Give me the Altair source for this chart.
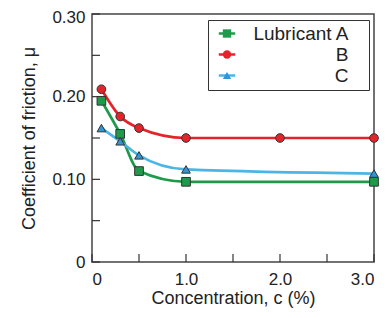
import altair as alt
import pandas as pd

series = ["Lubricant A", "B", "C"]
marker_keys = ["Lubricant A ", "B ", "C "]
line_colors = ["#1f9a4b", "#e5232b", "#4bb6e6"]
fill_colors = ["#1f9a4b", "#e5232b", "#3196d3"]
shapes = ["square", "circle", "triangle-up"]

conc_a = [0.1, 0.3, 0.5, 1.0, 3.0]
mu_a = [0.195, 0.155, 0.110, 0.097, 0.097]
conc_b = [0.1, 0.3, 0.5, 1.0, 2.0, 3.0]
mu_b = [0.209, 0.176, 0.162, 0.150, 0.150, 0.150]
conc_c = [0.1, 0.3, 0.5, 1.0, 3.0]
mu_c = [0.162, 0.146, 0.129, 0.112, 0.107]

y_ticks = [0, 0.05, 0.10, 0.15, 0.20, 0.25, 0.30]
y_labels = [0, 0.10, 0.20, 0.30]
x_ticks = [0, 0.5, 1.0, 1.5, 2.0, 2.5, 3.0]
x_labels = [0, 1.0, 2.0, 3.0]

rows = []
for name, key, xs, ys in [
    (series[0], marker_keys[0], conc_a, mu_a),
    (series[1], marker_keys[1], conc_b, mu_b),
    (series[2], marker_keys[2], conc_c, mu_c),
]:
    for xv, yv in zip(xs, ys):
        rows.append({"series": name, "mkey": key, "c": xv, "mu": yv})
df = pd.DataFrame(rows)

FONT = "Liberation Sans"
xscale = alt.Scale(domain=[0, 3], nice=False, zero=False)
yscale = alt.Scale(domain=[0, 0.3], nice=False)

TOP = 6
H = 254 - TOP  # plot bottom at y = 262 on the page
LX, LY = 116, 20 - 8 - TOP
PAD = 4
SYM_OFF = 5.5

lines = alt.Chart(df).mark_line(interpolate="monotone", strokeWidth=2.7).encode(
    x=alt.X("c:Q", scale=xscale,
            axis=alt.Axis(values=x_labels, title="Concentration, c (%)",
                          labelExpr="datum.value == 0 ? '0' : format(datum.value, '.1f')",
                          ticks=False, domain=False, grid=False, labelPadding=9,
                          titlePadding=2)),
    y=alt.Y("mu:Q", scale=yscale,
            axis=alt.Axis(values=y_labels, title="Coefficient of friction, μ",
                          labelExpr="datum.value == 0 ? '0' : format(datum.value, '.2f')",
                          labelOffset={"condition": {"test": "datum.value > 0.25", "value": 3},
                                       "value": 0},
                          ticks=False, domain=False, grid=False, labelPadding=7,
                          titlePadding=13)),
    color=alt.Color("series:N",
                    scale=alt.Scale(domain=series, range=line_colors),
                    legend=alt.Legend(orient="none", legendX=LX, legendY=LY, title=None,
                                      symbolType="stroke", symbolSize=270,
                                      symbolStrokeWidth=2.5, symbolOffset=SYM_OFF,
                                      labelAlign="right", labelOffset=112,
                                      labelFontSize=19, labelFont=FONT, labelColor="#222",
                                      padding=PAD, rowPadding=1,
                                      strokeColor="transparent", fillColor="white")),
)

marker_legend = alt.Legend(orient="none", legendX=LX, legendY=LY, title=None,
                           symbolSize=70, symbolOffset=SYM_OFF,
                           symbolStrokeColor="#333", symbolStrokeWidth=1,
                           labelAlign="right", labelOffset=128,
                           labelExpr="'\u00a0'",
                           labelFontSize=19, labelFont=FONT, labelOpacity=0,
                           padding=PAD, rowPadding=1,
                           strokeColor="#333", fillColor="transparent")

points = alt.Chart(df).mark_point(filled=True, size=75, stroke="#333", strokeWidth=1,
                                  opacity=1).encode(
    x=alt.X("c:Q", scale=xscale),
    y=alt.Y("mu:Q", scale=yscale),
    fill=alt.Fill("mkey:N", scale=alt.Scale(domain=marker_keys, range=fill_colors),
                  legend=marker_legend),
    shape=alt.Shape("mkey:N", scale=alt.Scale(domain=marker_keys, range=shapes),
                    legend=marker_legend),
)

ytick_df = pd.DataFrame({"t": y_ticks})
xtick_df = pd.DataFrame({"t": x_ticks})
yt = alt.Chart(ytick_df).mark_rule(color="#333", strokeWidth=1.2).encode(
    y=alt.Y("t:Q", scale=yscale), x=alt.value(0), x2=alt.value(8))
xt = alt.Chart(xtick_df).mark_rule(color="#333", strokeWidth=1.2).encode(
    x=alt.X("t:Q", scale=xscale), y=alt.value(H), y2=alt.value(H - 8))

chart = alt.layer(yt, xt, lines, points).properties(
    width=282, height=H,
    autosize=alt.AutoSizeParams(type="none"),
    padding={"left": 84, "top": TOP, "right": 10, "bottom": 302 - TOP - H},
    background="white",
).configure_view(
    stroke="#444", strokeWidth=1.5
).configure_axis(
    labelFont=FONT, titleFont=FONT, labelFontSize=17, titleFontSize=18,
    labelColor="#222", titleColor="#222", titleFontWeight="normal",
)

chart.save("out.html", embed_options={"renderer": "svg", "actions": False})
